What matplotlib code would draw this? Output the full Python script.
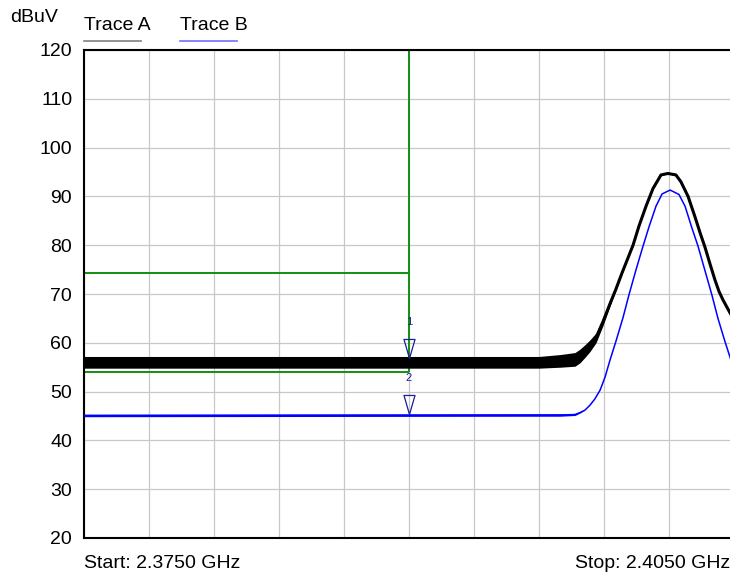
import numpy as np
import matplotlib
matplotlib.use("Agg")
import matplotlib.pyplot as plt
from matplotlib.lines import Line2D

plt.rcParams['font.family'] = ['Liberation Sans', 'DejaVu Sans']

# ---------------- data ----------------
f_start, f_stop = 2.3750, 2.4050          # GHz
y_ticks = [20, 30, 40, 50, 60, 70, 80, 90, 100, 110, 120]

# Trace A (max-hold, noisy): centre value and half-width of noise band (dBuV)
a_freq = [2.3750, 2.3960, 2.3970, 2.39766, 2.39789, 2.39812, 2.39835, 2.39863,
          2.39895, 2.39932, 2.39955, 2.39983, 2.40034, 2.40062, 2.40094, 2.40126,
          2.40163, 2.40195, 2.40232, 2.40255, 2.40288, 2.40320, 2.40343, 2.40366,
          2.40389, 2.40412, 2.40431, 2.40449, 2.40482, 2.40500]
a_db = [56.0, 56.0, 56.3, 56.6, 57.3, 58.3, 59.4, 61.0,
        64.3, 68.5, 71.0, 74.3, 80.0, 84.0, 88.0, 91.6,
        94.4, 94.7, 94.4, 93.0, 90.0, 85.8, 82.6, 79.6,
        76.2, 72.9, 70.5, 68.8, 66.1, 64.8]
a_spread = [1.2, 1.2, 1.3, 1.4, 1.4, 1.3, 1.2, 1.0,
            0.8, 0.45, 0.3, 0.2, 0.1, 0.1, 0.1, 0.1,
            0.1, 0.1, 0.1, 0.1, 0.1, 0.1, 0.1, 0.1,
            0.1, 0.1, 0.1, 0.1, 0.1, 0.1]

# Trace B (average)
b_freq = [2.3750, 2.39697, 2.39766, 2.39789, 2.39812, 2.39835, 2.39858, 2.39882,
          2.39905, 2.39928, 2.39955, 2.39988, 2.40015, 2.40048, 2.40080, 2.40108,
          2.40140, 2.40168, 2.40205, 2.40246, 2.40274, 2.40306, 2.40334, 2.40366,
          2.40398, 2.40426, 2.40458, 2.40482, 2.40500]
b_db = [45.1, 45.2, 45.3, 45.7, 46.2, 47.2, 48.5, 50.3,
        53.0, 56.5, 60.3, 65.2, 69.8, 75.0, 79.8, 83.8,
        88.0, 90.5, 91.3, 90.4, 88.0, 83.5, 79.8, 74.8,
        69.8, 65.0, 60.3, 57.0, 54.3]
b_spread = [0.25, 0.25, 0.2, 0.1, 0.0, 0.0, 0.0, 0.0,
            0.0, 0.0, 0.0, 0.0, 0.0, 0.0, 0.0, 0.0,
            0.0, 0.0, 0.0, 0.0, 0.0, 0.0, 0.0, 0.0,
            0.0, 0.0, 0.0, 0.0, 0.0]

# Limit lines / markers
line_freq = 2.3900
limit_upper = 74.3
limit_lower = 54.0
marker_labels = ["1", "2"]
marker_db = [56.9, 45.4]

legend_labels = ["Trace A", "Trace B"]

# ---------------- figure ----------------
W, H = 730, 573
fig = plt.figure(figsize=(W / 100, H / 100), dpi=100)
ax = fig.add_axes([84 / W, 35 / H, 650 / W, 488 / H])

ax.set_xlim(f_start, f_stop)
ax.set_ylim(20, 120)
ax.set_xticks(np.linspace(f_start, f_stop, 11))
ax.set_xticklabels([])
ax.set_yticks(y_ticks)
ax.set_yticklabels([str(t) for t in y_ticks], fontsize=14)
ax.tick_params(axis='both', length=0)
ax.tick_params(axis='y', pad=8.5)
ax.grid(True, color='#c8c8c8', lw=0.9)
ax.set_axisbelow(True)
for s in ax.spines.values():
    s.set_color('black')
    s.set_linewidth(1.5)

green = '#109010'
ax.vlines(line_freq, limit_lower, 120, color=green, lw=1.4, zorder=2)
ax.hlines([limit_upper, limit_lower], f_start, line_freq, color=green, lw=1.4, zorder=2)

# Trace B
bf = np.array(b_freq); bd = np.array(b_db); bs = np.array(b_spread)
ax.fill_between(bf, bd - bs, bd + bs, color='#0000ff', lw=0, zorder=3)
ax.plot(bf, bd, color='#0000ff', lw=1.1, zorder=3, solid_joinstyle='round')

# Trace A
af = np.array(a_freq); ad = np.array(a_db); asp = np.array(a_spread)
ax.fill_between(af, ad - asp, ad + asp, color='black', lw=0, zorder=4)
ax.plot(af, ad, color='black', lw=2.2, zorder=4, solid_joinstyle='round')

# markers
navy = '#1c1c9a'
tri = [(0, 0), (-0.29, 1), (0.29, 1), (0, 0)]
for lab, v in zip(marker_labels, marker_db):
    ax.plot([line_freq], [v], marker=tri, ms=27.4, mfc='none', mec=navy, mew=0.9,
            linestyle='none', zorder=6)
    ax.annotate(lab, (line_freq, v), xytext=(0, 26), textcoords='offset points',
                ha='center', va='center', fontsize=8, color=navy, zorder=6)

# header texts
fig.text(10 / W, 1 - 18 / H, "dBuV", fontsize=14, ha='left', va='center')
leg_x = [84, 180]
leg_colors = ['#808080', '#7070ff']
for lab, x, c in zip(legend_labels, leg_x, leg_colors):
    fig.text(x / W, 1 - 25 / H, lab, fontsize=14, ha='left', va='center')
    fig.add_artist(Line2D([x / W, (x + 57) / W], [1 - 40.5 / H, 1 - 40.5 / H],
                          color=c, lw=1.2, transform=fig.transFigure))

fig.text(84 / W, 1 - 563 / H, "Start: %.4f GHz" % f_start, fontsize=14, ha='left', va='center')
fig.text(575 / W, 1 - 563 / H, "Stop: %.4f GHz" % f_stop, fontsize=14, ha='left', va='center')

fig.savefig('out.png', dpi=100)
